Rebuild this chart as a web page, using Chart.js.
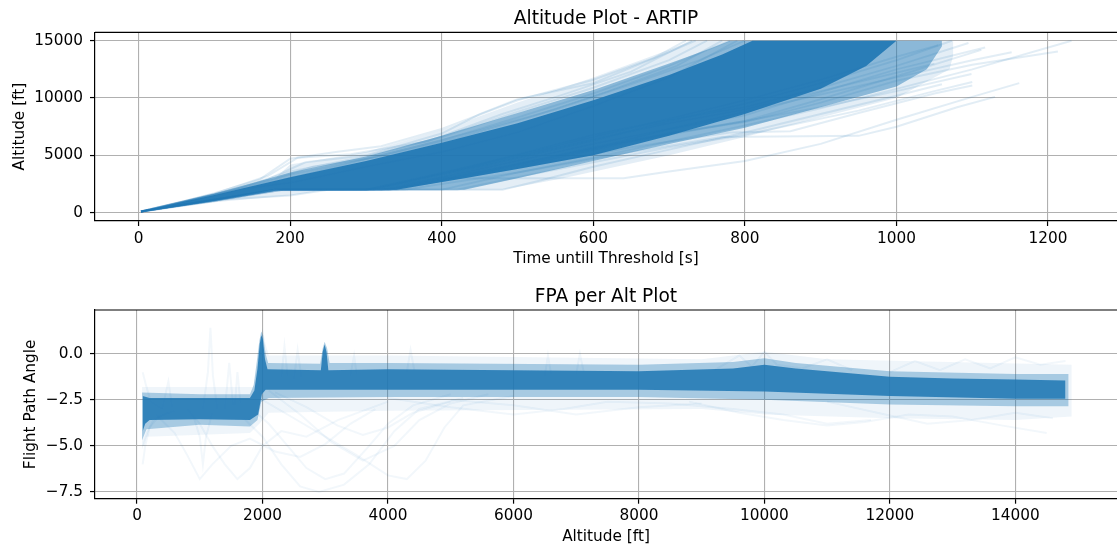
<!DOCTYPE html>
<html>
<head>
<meta charset="utf-8">
<script src="https://cdn.jsdelivr.net/npm/chart.js@4.4.1/dist/chart.umd.min.js"></script>
<style>
  body { margin: 0; background: #fff; }
  canvas { position: absolute; left: 0; }
  #alt { top: 0; }
  #fpa { top: 275px; }
</style>
</head>
<body>
<canvas id="alt" width="1117" height="275"></canvas>
<canvas id="fpa" width="1117" height="273"></canvas>
<script>
// ---- top plot: altitude vs time until threshold [s, ft] ----
const timeTicks = [0, 200, 400, 600, 800, 1000, 1200];
const altTicks = [0, 5000, 10000, 15000];

// dense core of the trajectories (upper / lower edge)
const altCoreUp = [[3,140],[100,1550],[200,3100],[300,4500],[400,6100],[500,7800],[600,9800],[700,12000],[770,13800],[810,15000],[1000,15000]];
const altCoreLow = [[3,60],[100,1050],[178,1990],[340,1990],[430,3000],[500,3800],[600,5000],[700,6700],[800,8600],[900,10800],[960,12800],[1000,15000]];
// medium density around it
const altMidUp = [[3,150],[100,1650],[200,3500],[300,4900],[400,6700],[500,8700],[600,10700],[700,13000],[750,14200],[780,15000],[1060,15000]];
const altMidLow = [[3,50],[100,950],[185,1950],[430,2000],[500,3000],[600,4500],[700,6000],[800,7400],[900,9200],[1000,11000],[1040,12500],[1065,15000]];
// light outer fringe
const altOutUp = [[3,160],[100,1700],[180,3000],[200,4200],[300,5300],[400,7200],[500,9600],[600,11800],[700,14200],[730,15000],[1075,15000]];
const altOutLow = [[3,40],[100,900],[200,1500],[250,1990],[480,2000],[560,3000],[700,5000],[800,6600],[900,8300],[1000,10000],[1070,12500],[1080,15000]];

// single faint runs
const altRuns = [
  [[3,120],[60,1000],[100,1700],[160,2900],[200,4700],[260,5300],[320,5800],[400,7300],[500,9800],[600,11600],[680,13500],[722,15000]],
  [[3,110],[100,1600],[170,2900],[220,4400],[300,5000],[400,6900],[450,8600],[500,9900],[600,11300],[700,14000],[735,15000]],
  [[3,100],[120,1900],[200,3600],[300,4900],[400,6600],[500,8800],[600,10900],[700,13300],[750,15000]],
  [[3,100],[130,2000],[200,3300],[300,4700],[400,6300],[500,8300],[600,10400],[700,12800],[780,15000]],
  [[3,90],[150,2300],[230,3500],[350,5500],[450,7200],[550,9000],[650,11200],[740,13300],[800,15000]],
  [[3,100],[140,2100],[200,2600],[300,4000],[400,5300],[500,7000],[600,9300],[700,11800],[790,15000]],
  [[3,110],[100,1650],[170,3200],[210,4800],[280,5100],[380,6200],[480,8600],[560,10300],[650,12300],[730,15000]],
  [[3,110],[100,1600],[180,3000],[230,4000],[320,4900],[420,6500],[520,8400],[620,10600],[710,12800],[770,15000]],
  [[3,80],[100,1100],[180,1950],[330,2000],[400,3000],[640,3000],[700,3600],[800,4500],[900,6000],[1000,8100],[1100,10100],[1162,11300]],
  [[3,70],[100,1000],[190,1990],[480,2000],[530,2800],[600,4000],[700,5500],[800,7000],[900,8600],[1000,10200],[1060,11200]],
  [[3,80],[110,1150],[200,1500],[250,2000],[420,2000],[500,3100],[600,4400],[700,5700],[800,6800],[950,8900],[1050,10600],[1100,11400]],
  [[3,100],[190,2000],[350,2000],[500,3500],[650,5300],[770,6600],[950,6700],[1000,7500],[1080,9200],[1130,10100]],
  [[3,100],[190,2000],[330,2000],[500,3900],[650,5700],[780,7000],[860,7100],[950,8700],[1050,10400],[1100,11100]],
  [[3,100],[180,2000],[300,2000],[450,3600],[600,5600],[700,7300],[800,8800],[900,10300],[1000,11800],[1100,13300],[1152,14000]],
  [[3,100],[180,2000],[300,2000],[450,4000],[600,6300],[700,8000],[800,9500],[900,11300],[1000,13300],[1073,15000]],
  [[3,100],[180,2000],[320,2000],[450,3800],[600,6000],[700,7300],[800,8500],[900,10500],[1000,12500],[1117,14400]],
  [[3,100],[180,2000],[330,2000],[480,3900],[600,5700],[700,6900],[800,8000],[900,9900],[1000,11900],[1112,14200]],
  [[3,100],[190,2000],[400,2000],[500,3500],[600,4800],[700,6200],[800,7600],[900,9100],[1000,10800],[1100,12500],[1231,15000]],
  [[3,100],[180,2000],[340,2000],[500,4200],[600,5600],[700,6900],[800,7900],[900,9600],[1000,11500],[1100,12900],[1213,14050]],
  [[3,100],[180,2000],[300,2000],[450,4200],[600,6800],[700,8100],[800,9200],[900,10900],[1000,12800],[1095,14800]],
  [[3,100],[180,2000],[320,2000],[500,4000],[650,6200],[800,8000],[900,9200],[1000,10600],[1099,12100]],
  [[3,100],[180,2000],[300,2000],[450,4100],[600,6400],[700,7800],[800,9000],[900,10600],[1000,12200],[1050,13000]],
  [[3,100],[180,2000],[310,2000],[460,4400],[600,6600],[700,8200],[800,9800],[900,11600],[1000,13600],[1055,14600]]
];

// ---- bottom plot: flight path angle vs altitude [ft, deg] ----
const fpaAltTicks = [0, 2000, 4000, 6000, 8000, 10000, 12000, 14000];
const fpaTicks = [-7.5, -5.0, -2.5, 0.0];

const fpaCoreUp = [[90,-2.3],[200,-2.4],[1000,-2.4],[1800,-2.4],[1870,-2.0],[1920,-0.8],[1955,0.5],[1980,1.0],[2005,0.8],[2040,-0.3],[2080,-0.85],[2930,-0.9],[2960,0.1],[2990,0.5],[3020,0.1],[3050,-0.9],[4000,-0.85],[6000,-0.9],[8000,-0.95],[9500,-0.8],[10000,-0.6],[10500,-0.8],[12000,-1.25],[13000,-1.35],[14000,-1.4],[14800,-1.45]];
const fpaCoreLow = [[90,-4.2],[130,-3.8],[200,-3.6],[1000,-3.55],[1800,-3.6],[1930,-3.3],[1990,-2.2],[2050,-1.95],[4000,-1.95],[8000,-1.95],[10000,-2.05],[12000,-2.3],[14000,-2.45],[14800,-2.45]];
const fpaMidUp = [[80,-2.1],[1000,-2.2],[1800,-2.2],[1860,-1.7],[1910,-0.4],[1950,0.7],[1980,1.2],[2010,1.0],[2050,0.0],[2090,-0.5],[2920,-0.55],[2960,0.3],[2990,0.65],[3030,0.3],[3070,-0.5],[4000,-0.5],[8000,-0.6],[9500,-0.45],[10000,-0.25],[10500,-0.5],[12000,-0.95],[14000,-1.1],[14850,-1.1]];
const fpaMidLow = [[80,-4.7],[150,-4.1],[1000,-3.85],[1800,-3.95],[1920,-3.6],[1980,-2.6],[2100,-2.4],[4000,-2.35],[8000,-2.35],[10000,-2.5],[12000,-2.75],[14000,-2.85],[14850,-2.85]];
const fpaHaloUp = [[80,-1.8],[1850,-1.8],[1900,-1.0],[1950,0.5],[2000,1.4],[2050,0.5],[2100,-0.1],[4000,-0.1],[9000,-0.3],[10000,0.1],[11000,-0.3],[14900,-0.6]];
const fpaHaloLow = [[80,-5.2],[150,-4.5],[1800,-4.3],[1950,-3.8],[2100,-3.2],[4000,-3.1],[9000,-3.0],[10000,-3.3],[12000,-3.5],[14000,-3.6],[14900,-3.4]];

const fpaRuns = [
  [[1900,-3.2],[2100,-3.8],[2400,-5.0],[2700,-6.2],[3000,-6.8],[3300,-6.5],[3700,-5.0],[4000,-3.8],[4400,-2.8],[5000,-2.2]],
  [[1700,-3.5],[2000,-4.5],[2300,-6.0],[2600,-7.2],[2900,-7.5],[3300,-7.1],[3700,-6.0],[4100,-4.2],[4500,-3.0],[5200,-2.4]],
  [[2000,-2.5],[2500,-3.5],[3000,-4.5],[3500,-5.5],[4000,-6.6],[4300,-6.8],[4600,-5.8],[4900,-4.0],[5200,-2.8],[6000,-2.3]],
  [[800,-3.0],[1000,-3.8],[1200,-5.0],[1400,-6.0],[1600,-6.8],[1800,-6.2],[2000,-5.0],[2300,-4.2],[2700,-4.5],[3200,-3.6],[4000,-2.6]],
  [[2100,-2.0],[2600,-3.3],[3100,-4.8],[3600,-5.8],[4100,-5.0],[4500,-3.6],[5000,-2.7],[5600,-2.2]],
  [[2200,-2.1],[2700,-2.9],[3200,-3.9],[3600,-4.4],[4000,-4.0],[4400,-3.2],[5000,-2.6]],
  [[900,-3.4],[1000,-4.5],[1050,-6.0],[1100,-4.5],[1200,-3.2]],
  [[300,-3.3],[600,-4.3],[800,-5.5],[1000,-6.8],[1200,-6.0],[1500,-5.0],[1800,-4.6],[2200,-5.3],[2600,-5.6],[3000,-4.9],[3400,-3.8],[3800,-3.0]],
  [[90,-6.0],[130,-5.0],[200,-4.0],[350,-3.4],[600,-3.1]],
  [[90,-1.0],[150,-1.8],[220,-2.6],[400,-3.0]],
  [[100,-5.0],[160,-4.3],[260,-3.6],[500,-3.2]],
  [[1050,-3.0],[1130,-1.0],[1170,1.4],[1210,-1.2],[1280,-3.0]],
  [[400,-3.0],[500,-1.5],[560,-2.9]],
  [[1400,-3.0],[1470,-0.5],[1530,-2.8]],
  [[1560,-2.8],[1600,-1.0],[1650,-2.7]],
  [[2300,-1.3],[2350,0.4],[2400,-1.2]],
  [[2500,-1.4],[2560,0.2],[2620,-1.3]],
  [[3400,-1.2],[3460,-0.1],[3500,-1.1]],
  [[4300,-1.0],[4360,0.2],[4420,-0.9]],
  [[6500,-1.2],[6550,-0.1],[6600,-1.1]],
  [[7000,-1.1],[7060,0.0],[7120,-1.0]],
  [[4000,-2.4],[5000,-2.9],[6000,-3.3],[6800,-3.0],[7500,-2.6],[8500,-2.7],[9500,-3.0],[10300,-3.3],[11000,-3.8],[11700,-3.6]],
  [[8800,-2.6],[9600,-3.2],[10300,-3.6],[11000,-3.9],[11600,-3.7],[12300,-3.3],[13000,-3.4],[13800,-3.9],[14500,-4.3]],
  [[11000,-2.6],[11800,-3.2],[12600,-3.8],[13300,-3.6],[14000,-3.2],[14600,-3.5]],
  [[5000,-2.5],[6000,-2.8],[7000,-3.3],[8000,-2.9],[9000,-2.7]],
  [[9200,-0.9],[9600,-0.1],[9800,-0.7],[10000,0.1],[10200,-0.6],[10600,-0.8],[11000,-0.3],[11400,-0.9]],
  [[12000,-1.0],[12400,-0.4],[12800,-0.9],[13200,-0.3],[13600,-0.8],[14000,-0.2],[14400,-0.6],[14800,-0.4]]
];

// ---- helpers ----
Chart.defaults.font.family = "'DejaVu Sans', sans-serif";
Chart.defaults.color = '#000';

const blue = a => `rgba(31,119,180,${a})`;
const pts = arr => arr.map(p => ({ x: p[0], y: p[1] }));

const runSet = (run, alpha) => ({
  data: pts(run), borderColor: blue(alpha), borderWidth: 2,
  pointRadius: 0, fill: false, tension: 0
});
const band = (up, low, alpha) => [
  { data: pts(up), borderColor: 'transparent', borderWidth: 0, backgroundColor: blue(alpha), pointRadius: 0, fill: '+1' },
  { data: pts(low), borderColor: 'transparent', borderWidth: 0, pointRadius: 0, fill: false }
];

const topSpine = {
  id: 'topSpine',
  afterDraw(chart) {
    const { ctx, chartArea: a } = chart;
    ctx.save();
    ctx.strokeStyle = '#000';
    ctx.lineWidth = 1.2;
    ctx.beginPath();
    ctx.moveTo(a.left, a.top);
    ctx.lineTo(a.right, a.top);
    ctx.stroke();
    ctx.restore();
  }
};

function makePlot(id, o) {
  const grid = { color: '#b0b0b0', lineWidth: 1.1, tickLength: 5, tickColor: '#000', tickWidth: 1.2 };
  const border = { color: '#000', width: 1.2 };
  return new Chart(document.getElementById(id), {
    type: 'line',
    data: { datasets: o.datasets },
    options: {
      responsive: false,
      animation: false,
      events: [],
      layout: { padding: 0 },
      plugins: {
        legend: { display: false },
        tooltip: { enabled: false },
        title: {
          display: true, text: o.title, fullSize: false,
          font: { size: 18.6, weight: 'normal' }, color: '#000',
          padding: o.titlePad
        }
      },
      scales: {
        x: {
          type: 'linear', min: o.xMin, max: o.xMax, z: 1,
          afterBuildTicks: s => { s.ticks = o.xTicks.map(v => ({ value: v })); },
          afterFit: s => { s.height = o.xHeight; },
          ticks: { font: { size: 15.3 }, color: '#000', padding: o.xTickPad, maxRotation: 0, autoSkip: false, callback: v => String(v) },
          grid, border,
          title: { display: true, text: o.xTitle, font: { size: 15.3 }, color: '#000', padding: { top: 0, bottom: o.xTitlePad } }
        },
        y: {
          type: 'linear', min: o.yMin, max: o.yMax, z: 1,
          afterBuildTicks: s => { s.ticks = o.yTicks.map(v => ({ value: v })); },
          afterFit: s => { s.width = 95; },
          ticks: { font: { size: 15.3 }, color: '#000', padding: 7, autoSkip: false, callback: o.yFmt },
          grid, border,
          title: { display: true, text: o.yTitle, font: { size: 15.3 }, color: '#000', padding: { top: o.yTitlePad, bottom: 0 } }
        }
      }
    },
    plugins: [topSpine]
  });
}

makePlot('alt', {
  title: 'Altitude Plot - ARTIP',
  titlePad: { top: 8, bottom: 2 },
  xTitle: 'Time untill Threshold [s]',
  yTitle: 'Altitude [ft]',
  xMin: -57.6, xMax: 1291, yMin: -726, yMax: 15730,
  xTicks: timeTicks, yTicks: altTicks,
  xHeight: 54, xTickPad: 3.8, xTitlePad: 6.9, yTitlePad: 10.5,
  yFmt: v => String(v),
  datasets: [
    ...band(altCoreUp, altCoreLow, 0.9),
    ...band(altMidUp, altMidLow, 0.45),
    ...band(altOutUp, altOutLow, 0.12),
    ...altRuns.map(r => runSet(r, 0.13))
  ]
});

makePlot('fpa', {
  title: 'FPA per Alt Plot',
  titlePad: { top: 10.7, bottom: 2 },
  xTitle: 'Altitude [ft]',
  yTitle: 'Flight Path Angle',
  xMin: -670, xMax: 15621, yMin: -7.863, yMax: 2.368,
  xTicks: fpaAltTicks, yTicks: fpaTicks,
  xHeight: 49.3, xTickPad: 3.6, xTitlePad: 1.5, yTitlePad: 22,
  yFmt: v => (v < 0 ? '\u2212' : '') + Math.abs(v).toFixed(1),
  datasets: [
    ...band(fpaCoreUp, fpaCoreLow, 0.85),
    ...band(fpaMidUp, fpaMidLow, 0.35),
    ...band(fpaHaloUp, fpaHaloLow, 0.07),
    ...fpaRuns.map(r => runSet(r, 0.06))
  ]
});
</script>
</body>
</html>
